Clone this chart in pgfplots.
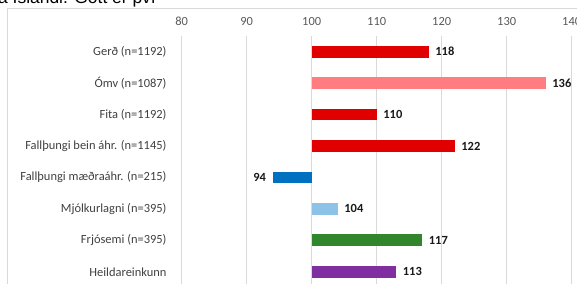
\documentclass[border=0pt]{standalone}
\usepackage{pgfplots}
\pgfplotsset{compat=1.18}
\usepackage{fontspec}
\setmainfont{Carlito}
\newfontfamily\toptext{Liberation Sans}
\definecolor{cRed}{HTML}{E00000}
\definecolor{cPink}{HTML}{FF7C80}
\definecolor{cBlue}{HTML}{0070C0}
\definecolor{cLBlue}{HTML}{8EC3E8}
\definecolor{cGreen}{HTML}{31852C}
\definecolor{cPurple}{HTML}{7F2FA0}
\definecolor{gridc}{HTML}{D9D9D9}
\definecolor{frame}{HTML}{D9D9D9}
\definecolor{ylab}{HTML}{404040}
\definecolor{tlab}{HTML}{595959}
\begin{document}
\begin{tikzpicture}
\useasboundingbox (0,0) rectangle (577bp,-284bp);
\node[anchor=base west, inner sep=0, font=\toptext\fontsize{17.5}{20}\selectfont, text=black] at (-2bp,-3bp) {a Íslandi. Gott er því};
\draw[frame, line width=0.75bp] (7.3bp,-8bp) rectangle (640bp,-340bp);
\begin{axis}[
  at={(181.7bp,-36bp)}, anchor=north west,
  scale only axis, width=390bp, height=251.5bp,
  xmin=-20, xmax=40, ymin=-0.5, ymax=7.5, y dir=reverse,
  clip=false,
  axis line style={draw=none},
  major tick length=0pt,
  xtick={-20,-10,...,40},
  xticklabels={80,90,100,110,120,130,140},
  xticklabel pos=upper,
  xticklabel style={anchor=base, inner sep=0pt, yshift=11bp, text=tlab, font=\fontsize{12.5}{14}\selectfont},
  ytick={0,...,7},
  yticklabels={{Gerð (n=1192)},{Ómv (n=1087)},{Fita (n=1192)},{Fallþungi bein áhr. (n=1145)},{Fallþungi mæðraáhr. (n=215)},{Mjólkurlagni (n=395)},{Frjósemi (n=395)},{Heildareinkunn}},
  yticklabel style={anchor=east, inner sep=0pt, xshift=-15bp, text=ylab, font=\fontsize{12.5}{14}\selectfont},
  xmajorgrids, grid style={gridc, line width=0.75bp},
  /pgf/number format/assume math mode=true,
  xbar, bar width=11.7bp, bar shift=0pt,
  point meta=explicit,
  nodes near coords,
  every node near coord/.append style={anchor=west, font=\bfseries\fontsize{12.5}{14}\selectfont, text=black!90, inner xsep=6.5bp},
  table/row sep=\\,
]
\addplot[fill=cRed, draw=none] table[x expr=\thisrow{v}-100, y=p, meta=v] {p v\\ 0 118\\};
\addplot[fill=cPink, draw=none] table[x expr=\thisrow{v}-100, y=p, meta=v] {p v\\ 1 136\\};
\addplot[fill=cRed, draw=none] table[x expr=\thisrow{v}-100, y=p, meta=v] {p v\\ 2 110\\};
\addplot[fill=cRed, draw=none] table[x expr=\thisrow{v}-100, y=p, meta=v] {p v\\ 3 122\\};
\addplot[fill=cBlue, draw=none, every node near coord/.append style={anchor=east}] table[x expr=\thisrow{v}-100, y=p, meta=v] {p v\\ 4 94\\};
\addplot[fill=cLBlue, draw=none] table[x expr=\thisrow{v}-100, y=p, meta=v] {p v\\ 5 104\\};
\addplot[fill=cGreen, draw=none] table[x expr=\thisrow{v}-100, y=p, meta=v] {p v\\ 6 117\\};
\addplot[fill=cPurple, draw=none] table[x expr=\thisrow{v}-100, y=p, meta=v] {p v\\ 7 113\\};
\end{axis}
\end{tikzpicture}
\end{document}
